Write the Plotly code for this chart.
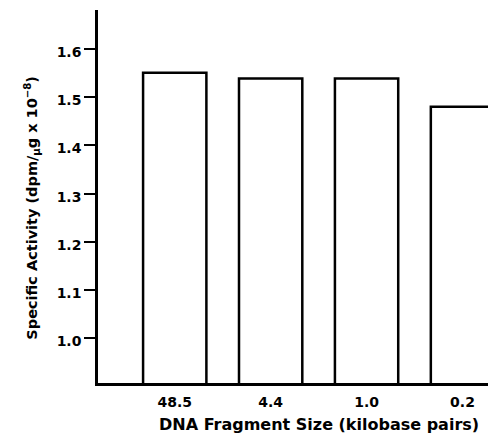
import plotly.graph_objects as go

categories = ["48.5", "4.4", "1.0", "0.2"]
values = [1.551, 1.539, 1.539, 1.480]
y_ticks = [1.0, 1.1, 1.2, 1.3, 1.4, 1.5, 1.6]
y_tick_labels = ["1.0", "1.1", "1.2", "1.3", "1.4", "1.5", "1.6"]
x_title = "DNA Fragment Size (kilobase pairs)"
y_title = "Specific Activity (dpm/<sub>μ</sub>g x 10<sup>−8</sup>)"

FONT = "DejaVu Sans, Liberation Sans, Arial, sans-serif"

fig = go.Figure()
fig.add_trace(go.Bar(
    x=categories, y=values,
    width=0.66,
    marker=dict(color="white", line=dict(color="black", width=2.5)),
    showlegend=False,
))

fig.update_layout(
    width=488, height=436,
    margin=dict(l=98, r=0, t=10, b=53),
    paper_bgcolor="white", plot_bgcolor="white",
    font=dict(family=FONT, color="black"),
)
fig.update_xaxes(
    type="category", range=[-0.8, 3.266],
    showline=True, linecolor="black", linewidth=2.5,
    ticks="", showgrid=False, zeroline=False,
    tickfont=dict(size=14, family=FONT, weight="bold"),
    ticklabelstandoff=4,
)
fig.update_yaxes(
    range=[0.907, 1.681],
    showline=True, linecolor="black", linewidth=2.5,
    ticks="outside", ticklen=11, tickwidth=2, tickcolor="black",
    tickvals=y_ticks, ticktext=y_tick_labels,
    showgrid=False, zeroline=False,
    tickfont=dict(size=14, family=FONT, weight="bold"),
    ticklabelstandoff=0, ticklabelshift=3,
)
fig.add_annotation(
    text=x_title, xref="paper", yref="paper",
    x=0.567, y=0, yshift=-41, xanchor="center", yanchor="middle",
    showarrow=False, font=dict(size=16, family=FONT, weight="bold"),
)
fig.add_annotation(
    text=y_title, xref="paper", yref="paper", textangle=-90,
    x=0, xshift=-66, y=0.47, xanchor="center", yanchor="middle",
    showarrow=False, font=dict(size=14.5, family=FONT, weight="bold"),
)

fig.write_html(
    "out.html",
    config={"displayModeBar": False},
    post_script="document.body.style.margin='0';document.body.style.overflow='hidden';",
)
